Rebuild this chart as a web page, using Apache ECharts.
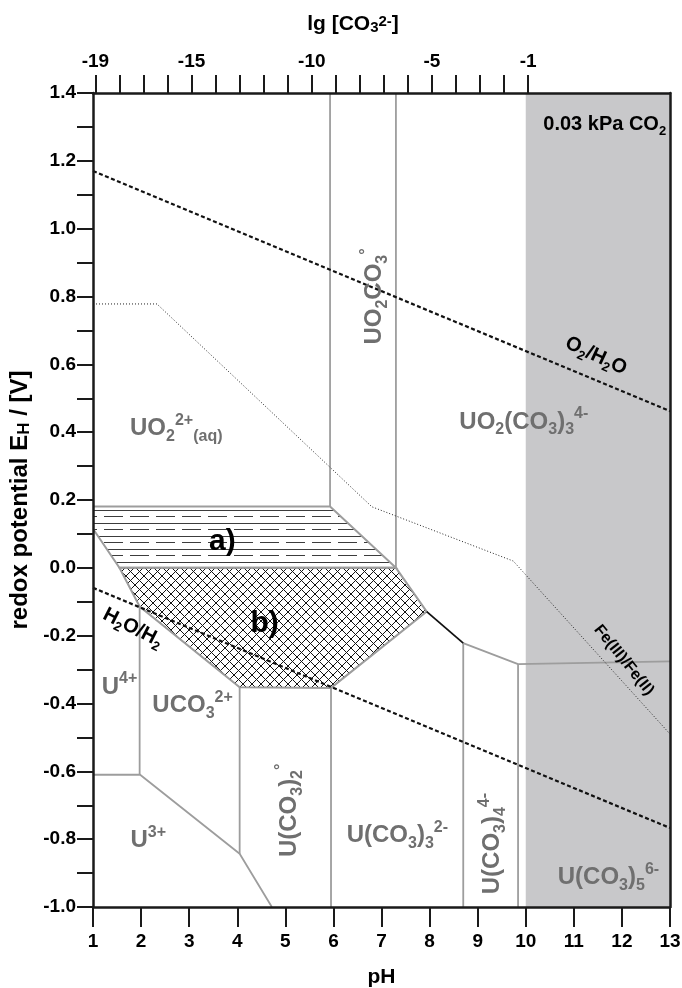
<!DOCTYPE html>
<html><head><meta charset="utf-8">
<script src="https://cdn.jsdelivr.net/npm/echarts@6/dist/echarts.min.js"></script>
<style>html,body{margin:0;padding:0;background:#fff}#c{width:682px;height:988px}</style>
</head><body><div id="c"></div>
<script>
// ---------- data ----------
const lgTickValues = [-19,-18,-17,-16,-15,-14,-13,-12,-11,-10,-9,-8,-7,-6,-5,-4,-3,-2,-1];
const lgLabelValues = [-19,-15,-10,-5,-1];
const o2h2oLine = [[1, 1.170], [13, 0.462]];
const h2oh2Line = [[1, -0.059], [13, -0.767]];
const feLine = [[1, 0.778], [2.33, 0.778], [6.8, 0.180], [9.74, 0.020], [13, -0.490]];
const co2Region = [[10, 1.4], [13, 1.4], [13, -1.0], [10, -1.0]];
const regionA = [[1, 0.181], [5.93, 0.181], [7.30, 0.0], [1.55, 0.0], [1, 0.115]];
const regionB = [[1.55, 0.0], [7.30, 0.0], [7.94, -0.129], [5.95, -0.354], [4.05, -0.352], [1.97, -0.114]];
const grayBoundaries = [
  [[5.93, 1.4], [5.93, 0.181]],
  [[7.30, 1.4], [7.30, 0.0]],
  [[8.70, -0.222], [9.84, -0.284], [13, -0.276]],
  [[8.70, -0.222], [8.70, -1.0]],
  [[9.84, -0.284], [9.84, -1.0]],
  [[5.95, -0.354], [5.95, -1.0]],
  [[4.05, -0.352], [4.05, -0.843]],
  [[1, -0.61], [1.98, -0.61], [4.05, -0.843], [4.72, -1.0]],
  [[1.97, -0.114], [1.97, -0.61]]
];
const blackBoundary = [[7.94, -0.129], [8.70, -0.222]];

// annotation texts (anchor in pH / E coordinates)
const speciesLabels = [
  {t:'{n|UO}{sub|2}{sup|2+}{sub|(aq)}', x:1.77, y:0.41, align:'left'},
  {t:'{n|UO}{sub|2}{n|CO}{sub|3}{sup|°}', x:6.86, y:0.80, rot:90},
  {t:'{n|UO}{sub|2}{n|(CO}{sub|3}{n|)}{sub|3}{sup|4-}', x:9.96, y:0.43},
  {t:'{n|U}{sup|4+}', x:1.55, y:-0.351},
  {t:'{n|UCO}{sub|3}{sup|2+}', x:3.07, y:-0.405},
  {t:'{n|U}{sup|3+}', x:2.15, y:-0.803},
  {t:'{n|U(CO}{sub|3}{n|)}{sub|2}{sup|°}', x:5.09, y:-0.715, rot:90},
  {t:'{n|U(CO}{sub|3}{n|)}{sub|3}{sup|2-}', x:7.33, y:-0.789},
  {t:'{n|U(CO}{sub|3}{n|)}{sub|4}{sup|4-}', x:9.31, y:-0.813, rot:90},
  {t:'{n|U(CO}{sub|3}{n|)}{sub|5}{sup|6-}', x:11.72, y:-0.913}
];
const blackLabels = [
  {t:'{b|a)}', x:3.69, y:0.077},
  {t:'{b|b)}', x:4.57, y:-0.166},
  {t:'{k|0.03 kPa CO}{ks|2}', x:12.92, y:1.306, align:'right'},
  {t:'{k|O}{ks|2}{k|/H}{ks|2}{k|O}', x:11.46, y:0.625, rot:-25},
  {t:'{k|H}{ks|2}{k|O/H}{ks|2}', x:1.83, y:-0.177, rot:-27},
  {t:'{f|Fe(III)/Fe(II)}', x:12.04, y:-0.272, rot:-51}
];

// ---------- styles ----------
const FONT = '"Liberation Sans", Arial, sans-serif';
const GRAY_TXT = '#6f6f6f';
const BND = '#9d9d9d';

function makeHatchA(){
  const c = document.createElement('canvas'); c.width = 26; c.height = 13;
  const g = c.getContext('2d');
  g.fillStyle = '#3c3c3c';
  g.fillRect(0, 3, 26, 1);
  g.fillRect(0, 9, 19, 1);
  return c;
}
function makeHatchB(){
  const c = document.createElement('canvas'); c.width = 9; c.height = 9;
  const g = c.getContext('2d');
  g.strokeStyle = '#111'; g.lineWidth = 1;
  g.beginPath();
  g.moveTo(-1, -1); g.lineTo(10, 10);
  g.moveTo(-1, 10); g.lineTo(10, -1);
  g.stroke();
  return c;
}

function polySeries(points, style, z){
  return {
    type:'custom', coordinateSystem:'cartesian2d', z: z, silent:true, clip:true,
    data:[[points[0][0], points[0][1]]],
    renderItem: function(params, api){
      return {type:'polygon', shape:{points: points.map(p => api.coord(p))}, style: style};
    }
  };
}
function lineSeries(pts, color, width, type, z){
  return {type:'line', data: pts, showSymbol:false, symbol:'none', silent:true, z: z,
    lineStyle:{color: color, width: width, type: type}, animation:false};
}

const richSpecies = {
  n:{fontSize:24, fontWeight:'bold', fontFamily:FONT, fill:GRAY_TXT, lineHeight:32, verticalAlign:'middle'},
  sub:{fontSize:16, fontWeight:'bold', fontFamily:FONT, fill:GRAY_TXT, lineHeight:16, verticalAlign:'bottom'},
  sup:{fontSize:16, fontWeight:'bold', fontFamily:FONT, fill:GRAY_TXT, lineHeight:16, verticalAlign:'top'}
};
const richBlack = {
  b:{fontSize:30, fontWeight:'bold', fontFamily:FONT, fill:'#000', lineHeight:32},
  k:{fontSize:20, fontWeight:'bold', fontFamily:FONT, fill:'#000', lineHeight:26, verticalAlign:'middle'},
  ks:{fontSize:13, fontWeight:'bold', fontFamily:FONT, fill:'#000', lineHeight:13, verticalAlign:'bottom'},
  f:{fontSize:16, fontWeight:'bold', fontFamily:FONT, fill:'#000', lineHeight:20}
};

function labelSeries(list, rich, z){
  return {
    type:'custom', coordinateSystem:'cartesian2d', z: z, silent:true, clip:false,
    data: list.map((l, i) => [l.x, l.y, i]),
    renderItem: function(params, api){
      const l = list[api.value(2)];
      const p = api.coord([api.value(0), api.value(1)]);
      return {type:'text', x:p[0], y:p[1], rotation:(l.rot || 0) * Math.PI / 180,
        style:{text:l.t, rich:rich, align:l.align || 'center', verticalAlign:'middle'}};
    }
  };
}

const axisLineStyle = {color:'#1a1a1a', width:2.5};
const tickLabel = {fontSize:19, fontWeight:'bold', color:'#000', fontFamily:FONT};
function nameRich(s){
  return {
    sub:{fontSize:s, fontWeight:'bold', fontFamily:FONT, color:'#000', lineHeight:s, verticalAlign:'bottom'},
    sup:{fontSize:s, fontWeight:'bold', fontFamily:FONT, color:'#000', lineHeight:s, verticalAlign:'top'}
  };
}

const chart = echarts.init(document.getElementById('c'), null, {renderer:'canvas'});
const series = [];
series.push(polySeries(co2Region, {fill:'#c8c8ca'}, 1));
series.push(polySeries(regionA, {fill:{image:makeHatchA(), repeat:'repeat'}, stroke:BND, lineWidth:2}, 2));
series.push(polySeries(regionB, {fill:{image:makeHatchB(), repeat:'repeat'}, stroke:BND, lineWidth:2}, 2));
grayBoundaries.forEach(b => series.push(lineSeries(b, BND, 1.8, 'solid', 3)));
series.push(lineSeries(blackBoundary, '#111', 1.8, 'solid', 3));
series.push(lineSeries(feLine, '#222', 1, [1, 2], 4));
series.push(lineSeries(o2h2oLine, '#111', 2.2, [4, 2.5], 4));
series.push(lineSeries(h2oh2Line, '#111', 2.2, [4, 2.5], 4));
series.push(labelSeries(speciesLabels, richSpecies, 6));
series.push(labelSeries(blackLabels, richBlack, 6));

chart.setOption({
  animation:false,
  grid:{left:93, right:12, top:93, bottom:81, containLabel:false, outerBoundsMode:'none'},
  xAxis:[
    {type:'value', position:'bottom', min:1, max:13, interval:1, z:20,
     axisLine:{show:true, onZero:false, lineStyle:axisLineStyle},
     axisTick:{show:true, inside:false, length:20, lineStyle:{color:'#1a1a1a', width:2}},
     axisLabel:Object.assign({margin:25}, tickLabel),
     splitLine:{show:false},
     name:'pH', nameLocation:'middle', nameGap:60,
     nameTextStyle:{fontSize:21, fontWeight:'bold', color:'#000', fontFamily:FONT}},
    {type:'value', position:'top', min:-19.1, max:4.9, z:20,
     axisLine:{show:true, onZero:false, lineStyle:axisLineStyle},
     axisTick:{show:true, inside:false, length:18, customValues:lgTickValues, lineStyle:{color:'#1a1a1a', width:2}},
     axisLabel:Object.assign({margin:22, customValues:lgLabelValues}, tickLabel),
     splitLine:{show:false},
     name:'lg [CO{sub|3}{sup|2-}]', nameLocation:'middle', nameGap:58,
     nameTextStyle:{fontSize:21, fontWeight:'bold', color:'#000', fontFamily:FONT, padding:[0,57,0,0], rich:nameRich(15)}}
  ],
  yAxis:[
    {type:'value', position:'left', min:-1.0, max:1.4, interval:0.1, z:20,
     axisLine:{show:true, onZero:false, lineStyle:axisLineStyle},
     axisTick:{show:true, inside:false, length:16, lineStyle:{color:'#1a1a1a', width:2}},
     axisLabel:Object.assign({margin:17, formatter:function(v){
        const k = Math.round(v * 10);
        return (k % 2 === 0) ? (k / 10).toFixed(1) : '';
     }}, tickLabel),
     splitLine:{show:false},
     name:'redox potential E{sub|H} / [V]', nameLocation:'middle', nameGap:58,
     nameTextStyle:{fontSize:24, fontWeight:'bold', color:'#000', fontFamily:FONT, rich:nameRich(17)}},
    {type:'value', position:'right', min:-1.0, max:1.4, z:20,
     axisLine:{show:true, onZero:false, lineStyle:axisLineStyle},
     axisTick:{show:false}, axisLabel:{show:false}, splitLine:{show:false}}
  ],
  series: series
});
</script></body></html>
